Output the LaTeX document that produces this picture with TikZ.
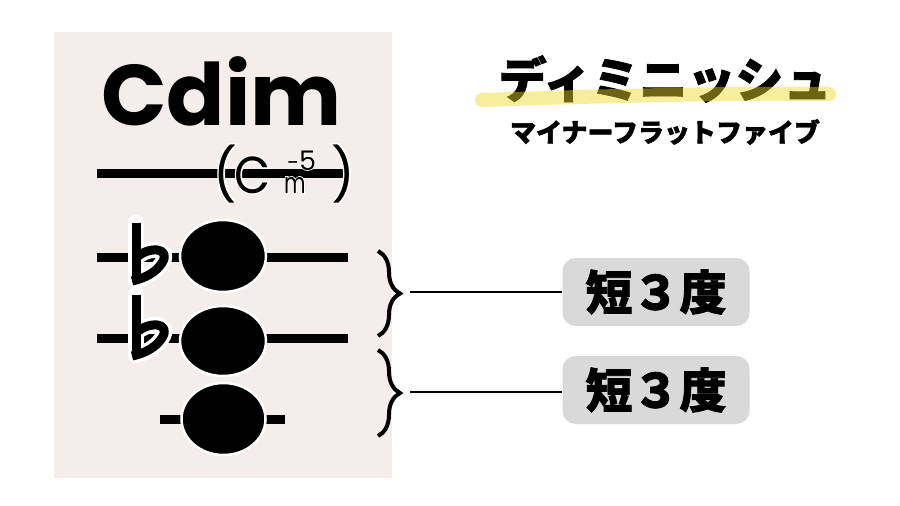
\documentclass[tikz,border=0pt]{standalone}
\usepackage{fontspec}
\newfontfamily\pop{Poppins}
\newfontfamily\pophalo{Poppins}[FakeBold=6]
\newfontfamily\jp{Noto Sans CJK JP}[BoldFeatures={FakeBold=1.6}]
\usetikzlibrary{decorations.pathreplacing,shapes.geometric}
\definecolor{panel}{RGB}{243,237,235}
\definecolor{lblgray}{RGB}{217,217,217}
\definecolor{hl}{RGB}{239,217,43}
\tikzset{
  staff/.style={line width=9pt},
  notehead/.style={ellipse, fill=black, draw=white, line width=2.5pt, inner sep=0pt, minimum width=86pt, minimum height=72pt},
  flathalo/.style={white, line width=16pt, line cap=round, line join=round},
  flatink/.style={black, line width=9pt, line cap=butt, line join=round},
  chtext/.style={anchor=base west, inner sep=0pt},
  lbl/.style={fill=lblgray, rounded corners=13pt, minimum width=187pt, minimum height=68pt, inner sep=0pt, font=\jp\bfseries\fontsize{47}{47}\selectfont},
  bracestyle/.style={line width=4pt, decorate, decoration={brace, amplitude=22pt}},
  conn/.style={line width=2.5pt},
}
\newcommand\chordsym[1]{%
  \rlap{#1\fontsize{52}{52}\selectfont(}%
  \rlap{\hspace*{21pt}#1\fontsize{52}{52}\selectfont\scalebox{0.9}[1]{C}}%
  \rlap{\hspace*{71pt}#1\fontsize{29}{29}\selectfont\scalebox{0.72}[1]{m}}%
  \rlap{\hspace*{74pt}\raisebox{23pt}{#1\fontsize{22}{22}\selectfont -}}%
  \rlap{\hspace*{86pt}\raisebox{23pt}{#1\fontsize{27}{27}\selectfont 5}}%
  \rlap{\hspace*{118pt}#1\fontsize{52}{52}\selectfont)}%
  \hspace*{134pt}}
\begin{document}
\begin{tikzpicture}[x=1pt,y=-1pt]
\useasboundingbox (0,0) rectangle (900,506);
\fill[white] (0,0) rectangle (900,506);
\fill[panel] (54,32) rectangle (392,478);

% chord name
\node[anchor=base west, inner sep=0pt, font=\pop\bfseries\fontsize{86}{86}\selectfont] (cdim) at (101,125) {Cdim};

% line under chord name, with the chord symbol haloed on it
\draw[staff] (97,173) -- (347,173);
\node[chtext, white] (chalo) at (213,193) {\chordsym{\pophalo}};
\node[chtext] (csym) at (213,193) {\chordsym{\pop}};

% staff lines
\draw[staff] (97,257) -- (348,257);
\draw[staff] (97,338) -- (348,338);
\draw[staff] (160,419) -- (285,419);

% flats
\foreach \yt/\yl/\yb in {223/251/282, 295/326/357}{
  \draw[flathalo] (136,\yt) -- (136,\yb-2);
  \draw[flathalo] (136,\yl+7) .. controls (148,\yl-5) and (172,\yl-4) .. (162,\yl+12) .. controls (156,\yb-10) and (146,\yb-4) .. (136,\yb-2);
}
\foreach \yt/\yl/\yb in {223/251/282, 295/326/357}{
  \draw[flatink] (136,\yt) -- (136,\yb);
  \draw[flatink] (136,\yl+7) .. controls (148,\yl-5) and (172,\yl-4) .. (162,\yl+12) .. controls (156,\yb-10) and (146,\yb-4) .. (132,\yb-1);
}

% noteheads
\node[notehead] (n1) at (223,256) {};
\node[notehead, minimum height=70pt] (n2) at (223,341) {};
\node[notehead, minimum width=84pt] (n3) at (223.5,419) {};

% braces
\coordinate (b1t) at (378,251);
\coordinate (b1b) at (378,336);
\coordinate (b2t) at (378,350);
\coordinate (b2b) at (378,436);
\draw[bracestyle] (b1t) -- (b1b);
\draw[bracestyle] (b2t) -- (b2b);

% labels
\node[lbl] (lab1) at (656,292) {短３度};
\node[lbl] (lab2) at (656,390) {短３度};
\coordinate (c1) at (410,292);
\coordinate (c2) at (410,392);
\draw[conn] (c1) -- (lab1.west |- c1);
\draw[conn] (c2) -- (lab2.west |- c2);

% title
\node[inner sep=0pt, font=\jp\bfseries\fontsize{48}{48}\selectfont] (title) at (665,79) {ディミニッシュ};
\draw[hl, opacity=0.46, line width=14pt, line cap=round] (482,100) .. controls (600,96) and (720,93) .. (829,94);
\node[inner sep=0pt, font=\jp\bfseries\fontsize{26}{26}\selectfont] (sub) at (665,132) {マイナーフラットファイブ};
\end{tikzpicture}
\end{document}
